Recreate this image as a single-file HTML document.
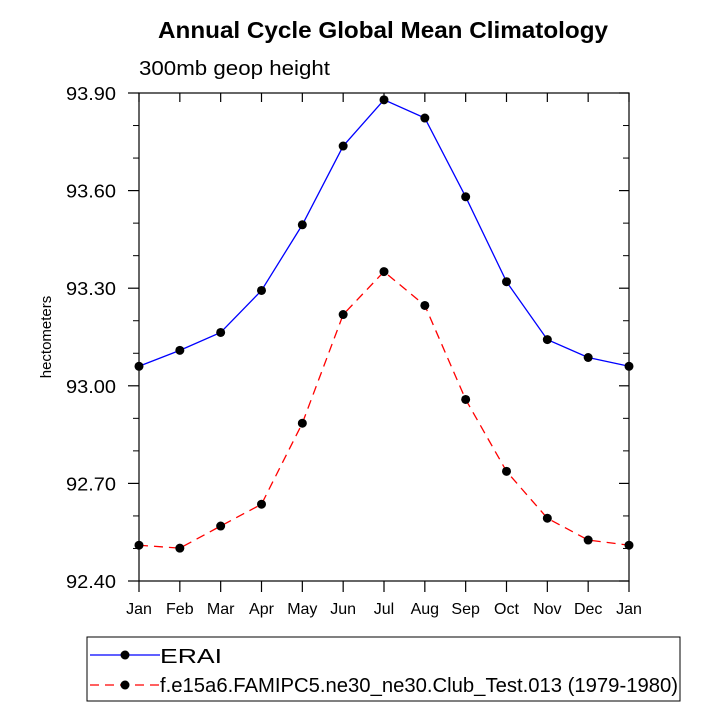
<!DOCTYPE html>
<html><head><meta charset="utf-8"><style>body{margin:0;background:#fff}svg{font-family:"Liberation Sans",sans-serif}</style></head>
<body>
<svg id="c" width="722" height="721">
<text x="158" y="38" textLength="450" lengthAdjust="spacingAndGlyphs" font-size="23" font-weight="bold">Annual Cycle Global Mean Climatology</text>
<text x="139" y="75" textLength="191" lengthAdjust="spacingAndGlyphs" font-size="20">300mb geop height</text>
<text transform="translate(51,337) rotate(-90)" text-anchor="middle" font-size="15">hectometers</text>
<rect x="139" y="93" width="490" height="488" fill="none" stroke="#000" stroke-width="1.2"/>
<g id="ax"></g><g id="series"></g>
<rect x="87" y="637" width="593" height="64" fill="none" stroke="#000" stroke-width="1"/>
<g>
<line x1="90" y1="655" x2="160" y2="655" stroke="#00f" stroke-width="1.3"/><circle cx="125" cy="655" r="4.5"/>
<text x="160" y="663" textLength="62" lengthAdjust="spacingAndGlyphs" font-size="20">ERAI</text></g>
<g>
<line x1="90" y1="685" x2="160" y2="685" stroke="#f00" stroke-width="1.3" stroke-dasharray="9,6"/><circle cx="125" cy="685" r="4.5"/>
<text x="160" y="692" textLength="518" lengthAdjust="spacingAndGlyphs" font-size="20">f.e15a6.FAMIPC5.ne30_ne30.Club_Test.013 (1979-1980)</text></g>
</svg>
<script>
const months=["Jan","Feb","Mar","Apr","May","Jun","Jul","Aug","Sep","Oct","Nov","Dec","Jan"];
const yTicks=[92.40,92.70,93.00,93.30,93.60,93.90];
const erai=[93.06,93.109,93.164,93.293,93.495,93.737,93.879,93.823,93.581,93.320,93.142,93.087,93.06];
const model=[92.510,92.501,92.569,92.636,92.885,93.219,93.351,93.247,92.958,92.737,92.593,92.526,92.510];
const NS="http://www.w3.org/2000/svg";
const X=i=>139+i*490/12, Y=v=>581-(v-92.4)*488/1.5;
function mk(t,a,p){const e=document.createElementNS(NS,t);for(const k in a)e.setAttribute(k,a[k]);p.appendChild(e);return e;}
const ax=document.getElementById('ax'), sg=document.getElementById('series');
months.forEach((m,i)=>{
 const x=X(i);
 const t=mk('line',{x1:x,y1:581,x2:x,y2:592,stroke:'#000','stroke-width':1.2},ax);
 
 
 mk('line',{x1:x,y1:93,x2:x,y2:102,stroke:'#000','stroke-width':1.2},ax);
 const l=mk('text',{x:x,y:614,'text-anchor':'middle','font-size':16},ax);l.textContent=m;
 
 
});
yTicks.forEach(v=>{
 const y=Y(v);
 mk('line',{x1:128,y1:y,x2:139,y2:y,stroke:'#000','stroke-width':1.2},ax);
 mk('line',{x1:619,y1:y,x2:629,y2:y,stroke:'#000','stroke-width':1.2},ax);
 const l=mk('text',{x:116,y:y+7,'text-anchor':'end','font-size':18,textLength:50,lengthAdjust:'spacingAndGlyphs'},ax);l.textContent=v.toFixed(2);
 
 
});
for(let k=0;k<yTicks.length-1;k++)for(let j=1;j<3;j++){const y=Y(yTicks[k]+j*0.1);
 mk('line',{x1:133,y1:y,x2:139,y2:y,stroke:'#000'},ax);mk('line',{x1:623,y1:y,x2:629,y2:y,stroke:'#000'},ax);}
function series(d,col,dash,name){
 const g=mk('g',{},sg);
 
 
 mk('polyline',{points:d.map((v,i)=>X(i)+','+Y(v)).join(' '),fill:'none',stroke:col,'stroke-width':1.3,'stroke-dasharray':dash},g);
 d.forEach((v,i)=>{const c=mk('circle',{cx:X(i),cy:Y(v),r:4.5},g);
  
  });
}
series(erai,'#00f','none','series-erai');
series(model,'#f00','9,6','series-model');
</script>
</body></html>
